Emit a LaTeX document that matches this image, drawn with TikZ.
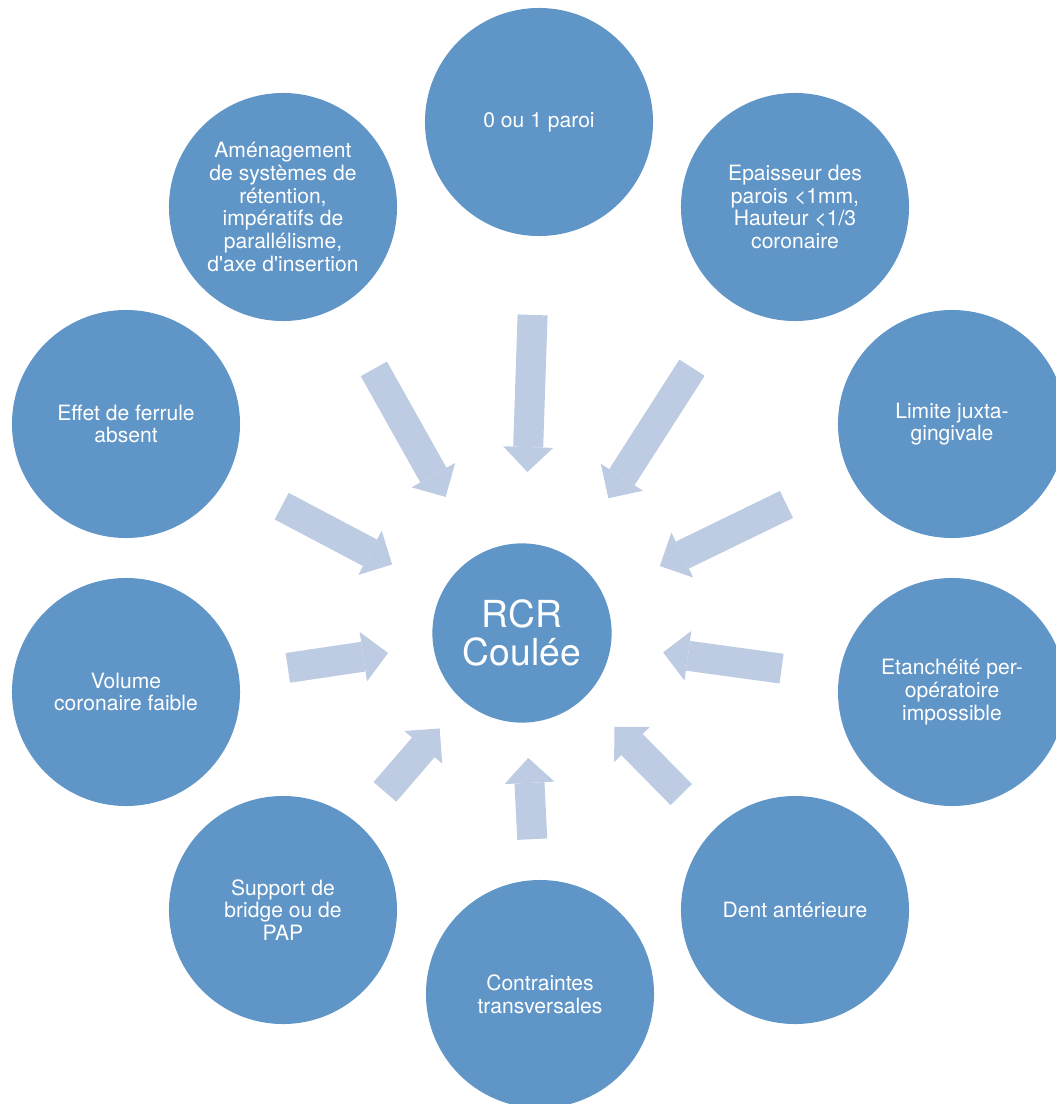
\documentclass[tikz,border=0pt]{standalone}
\usepackage{fontspec}
\setmainfont{TeX Gyre Heros}
\usetikzlibrary{arrows.meta}
\definecolor{rcrblue}{RGB}{96,149,199}
\definecolor{rcrarrow}{RGB}{189,204,226}

\begin{document}
\begin{tikzpicture}[x=0.025cm,y=-0.025cm,
  facteur/.style={circle,fill=rcrblue,text=white,minimum size=5.7cm,inner sep=0pt,outer sep=0pt,
    align=center,font=\fontsize{15}{16.2}\selectfont},
  centre/.style={circle,fill=rcrblue,text=white,minimum size=4.48cm,inner sep=0pt,outer sep=0pt,
    align=center,font=\fontsize{26.5}{27.5}\selectfont},
  fleche/.style={rcrarrow,line width=0.75cm,-{Triangle[length=0.625cm,width=1.25cm,line width=0pt]}}]
  \clip (0,0) rectangle (1056,1104);
  % Centre
  \node[centre] (rcr) at (522,633) {RCR\\Coulée};
  % Outer ring, clockwise from the top
  \node[facteur] (paroi) at (539,122) {0 ou 1 paroi};
  \node[facteur] (epaisseur) at (795,207) {Epaisseur des\\parois <1mm,\\Hauteur <1/3\\coronaire};
  \node[facteur] (limite) at (952,424) {Limite juxta-\\gingivale};
  \node[facteur] (etancheite) at (952,692) {Etanchéité per-\\opératoire\\impossible};
  \node[facteur] (dent) at (795,910) {Dent antérieure};
  \node[facteur] (contraintes) at (540,994) {Contraintes\\transversales};
  \node[facteur] (support) at (283,910) {Support de\\bridge ou de\\PAP};
  \node[facteur] (volume) at (126,692) {Volume\\coronaire faible};
  \node[facteur] (ferrule) at (126,424) {Effet de ferrule\\absent};
  \node[facteur] (amenagement) at (283,207) {Aménagement\\de systèmes de\\rétention,\\impératifs de\\parallélisme,\\d\textquotesingle axe d\textquotesingle insertion};
  % Arrows towards the centre
  \draw[fleche,shorten <=4.825cm,shorten >=4.025cm] (paroi.center) -- (rcr.center);
  \draw[fleche,shorten <=4.77cm,shorten >=4.0cm] (epaisseur.center) -- (rcr.center);
  \draw[fleche,shorten <=4.6cm,shorten >=3.83cm] (limite.center) -- (rcr.center);
  \draw[fleche,shorten <=4.3cm,shorten >=3.56cm] (etancheite.center) -- (rcr.center);
  \draw[fleche,shorten <=4.05cm,shorten >=3.29cm] (dent.center) -- (rcr.center);
  \draw[fleche,shorten <=3.875cm,shorten >=3.125cm] (contraintes.center) -- (rcr.center);
  \draw[fleche,shorten <=3.9cm,shorten >=3.15cm] (support.center) -- (rcr.center);
  \draw[fleche,shorten <=4.09cm,shorten >=3.385cm] (volume.center) -- (rcr.center);
  \draw[fleche,shorten <=4.4cm,shorten >=3.67cm] (ferrule.center) -- (rcr.center);
  \draw[fleche,shorten <=4.64cm,shorten >=3.9cm] (amenagement.center) -- (rcr.center);
\end{tikzpicture}
\end{document}
